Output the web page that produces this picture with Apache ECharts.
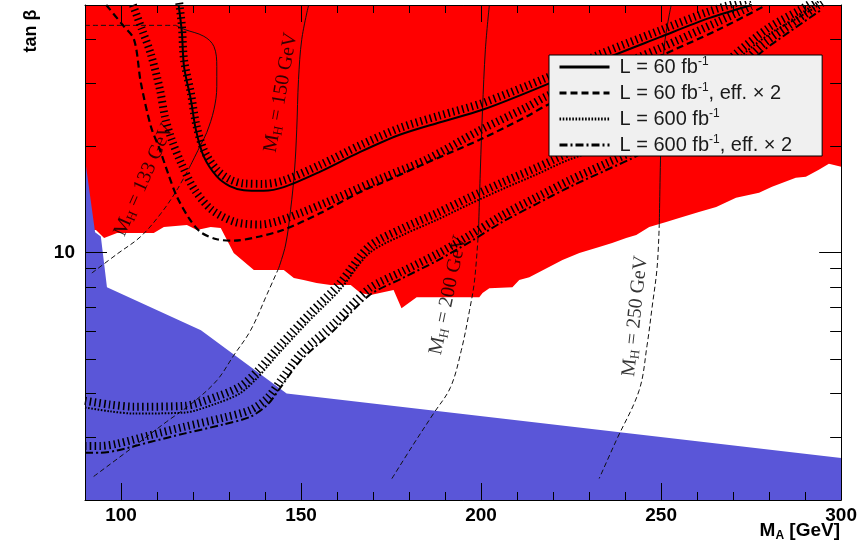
<!DOCTYPE html>
<html>
<head>
<meta charset="utf-8">
<script src="https://cdn.jsdelivr.net/npm/echarts@6/dist/echarts.min.js"></script>
<style>
  html, body { margin: 0; padding: 0; background: #fff; }
  #chart { width: 860px; height: 554px; }
</style>
</head>
<body>
<div id="chart"></div>
<script>
// ---- axes: M_A [GeV] and tan(beta) ----
const xMajorTicks = [100, 150, 200, 250, 300];
const xMinorTicks = [110, 120, 130, 140, 160, 170, 180, 190, 210, 220, 230, 240, 260, 270, 280, 290];
const yMajorTicks = [10];
const yMinorTicks = [2, 3, 4, 5, 6, 7, 8, 9, 20, 30, 40, 50];

// ---- excluded region: lower edge (filled up to tan beta = 50) ----
const exclusionEdge = [
  [90, 11.6], [93.05, 11.58], [95.3, 10.99], [98.9, 11.36], [109.1, 11.36], [111.9, 11.81],
  [118.3, 11.96], [121.1, 11.58], [124.9, 11.81], [127.7, 11.73], [131.3, 9.97], [136.9, 8.92],
  [145.2, 8.92], [148.0, 8.47], [150.7, 8.36], [154.3, 8.20], [158.2, 8.09], [163.8, 8.09],
  [166.5, 7.68], [169.3, 7.58], [175.7, 7.83], [177.9, 6.96], [182.1, 7.48], [199.5, 7.48],
  [200.4, 7.68], [202.3, 7.93], [208.7, 7.98], [210.6, 8.36], [213.4, 8.52], [216.2, 8.81],
  [222.6, 9.52], [227.3, 9.97], [232.8, 10.36], [236.4, 10.64], [240.3, 10.99], [243.1, 11.21],
  [246.7, 11.81], [251.4, 12.20], [255.0, 12.52], [260.5, 13.02], [265.3, 13.45], [270.8, 14.27],
  [277.2, 14.74], [280.8, 15.33], [287.4, 16.26], [290.2, 16.36], [293.8, 17.13], [296.6, 17.81],
  [300, 17.47]
];

// ---- theoretically inaccessible region: upper edge (filled down to tan beta = 2) ----
const inaccessibleEdge = [
  [90, 18.4], [92.8, 11.4], [94.4, 11.1], [96.1, 7.98], [122.2, 6.03], [146.0, 4.0], [300, 2.63]
];

// ---- 5 sigma discovery contours ----
const contour60 = [
  [116.0, 50], [116.9, 41.9], [117.5, 33.5], [119.4, 27.0], [120.8, 22.2], [123.0, 18.65],
  [126.6, 16.4], [130.2, 15.4], [134.1, 15.0], [139.6, 14.95], [145.2, 15.3], [155.2, 16.9],
  [166.3, 19.2], [177.4, 21.5], [188.4, 23.3], [200.4, 25.3], [218.1, 29.8], [232.8, 34.7],
  [249.5, 40.5], [263.3, 45.9], [275.2, 50]
];
const contour60eff = [
  [95.9, 50], [100.3, 44.1], [103.6, 40.0], [105.5, 30.2], [108.3, 22.7], [110.8, 19.5],
  [113.0, 16.8], [115.5, 14.4], [119.1, 12.4], [122.2, 11.4], [126.6, 10.9], [131.3, 10.8],
  [138.5, 11.1], [145.2, 11.6], [155.2, 12.9], [166.3, 14.8], [172.9, 15.8], [184.8, 17.9],
  [199.5, 20.8], [212.6, 24.2], [218.1, 26.0], [232.8, 30.2], [249.5, 35.8], [266.1, 42.7],
  [278.6, 49.6]
];
const contour60effHatch = [
  [103.3, 50], [105.8, 42.7], [108.3, 36.3], [110.8, 28.9], [112.2, 24.2], [114.1, 20.8],
  [116.9, 17.7], [120.5, 15.0], [125.2, 13.2], [131.6, 12.2], [138.5, 12.0], [149.6, 12.9],
  [172.9, 16.3], [184.8, 18.3], [199.5, 22.1], [212.6, 25.7], [218.1, 27.6], [232.8, 32.0],
  [249.5, 37.7], [266.1, 45.0], [275.0, 49.6]
];
const contour600 = [
  [90, 3.65], [96.9, 3.56], [103.6, 3.51], [117.5, 3.53], [126.6, 3.75], [133.0, 4.0],
  [137.7, 4.41], [144.1, 5.23], [152.4, 6.44], [160.7, 7.83], [169.0, 9.97], [178.2, 11.2],
  [187.6, 12.35], [196.8, 13.7], [205.9, 15.1], [215.3, 16.6], [224.5, 18.3], [240.3, 20.7],
  [249.5, 23.4], [260.5, 27.9], [270.5, 34.7], [279.9, 41.3], [288.3, 46.2], [293.3, 49.6]
];
const contour600eff = [
  [90, 2.72], [94.2, 2.72], [98.9, 2.76], [108.3, 2.92], [117.5, 3.08], [128.5, 3.27],
  [136.0, 3.44], [140.7, 3.72], [144.1, 4.13], [149.9, 4.96], [159.1, 6.03], [169.0, 7.58],
  [178.2, 8.47], [187.6, 9.46], [196.8, 10.7], [205.9, 12.2], [215.3, 13.7], [224.5, 15.3],
  [234.8, 17.1], [243.9, 18.9], [255.0, 22.5], [266.1, 27.9], [277.2, 36.3], [285.5, 41.9],
  [294.7, 48.6]
];

// ---- M_H iso-mass lines: solid part inside the excluded region, dashed below ----
const mh133Flat = [[90, 43.8], [115.2, 43.8]];
const mh133Upper = [
  [115.2, 43.8], [117.5, 42.7], [123.0, 40.8], [125.8, 38.2], [126.6, 33.5], [126.6, 29.4],
  [125.8, 25.3], [123.8, 21.8], [122.2, 20.2], [119.4, 17.7]
];
const mh133Lower = [[119.4, 17.7], [115.5, 15.0], [111.1, 12.9], [105.5, 11.1], [98.9, 9.9], [91.9, 8.75]];
const mh150Upper = [
  [152.1, 50], [150.2, 40.0], [149.3, 30.8], [148.8, 22.2], [148.2, 17.1], [147.1, 13.2],
  [145.7, 10.5], [143.8, 9.04]
];
const mh150Lower = [
  [143.8, 9.04], [140.7, 7.68], [136.0, 6.03], [131.3, 5.12], [126.6, 4.35], [119.7, 3.75],
  [112.7, 3.33], [102.5, 2.78], [91.9, 2.31]
];
const mh200Upper = [[202.3, 50], [201.2, 37.5], [200.4, 25.3], [199.8, 17.1], [199.3, 11.6]];
const mh200Lower = [
  [199.3, 11.6], [198.2, 8.36], [196.8, 6.87], [194.5, 5.29], [191.5, 4.16], [186.8, 3.51],
  [181.0, 2.85], [174.9, 2.27]
];
const mh250Upper = [[252.8, 50], [250.8, 37.5], [250.0, 21.8], [249.5, 12.12]];
const mh250Lower = [
  [249.5, 12.12], [248.9, 9.10], [247.5, 7.01], [246.1, 5.47], [243.9, 4.08], [237.5, 2.94],
  [232.8, 2.30]
];

// M_H line labels: mass, anchor (M_A, tan beta), text angle
const mhMasses = [133, 150, 200, 250];
const mhLabelAnchors = [[106.4, 16.05], [144.4, 28.3], [190.9, 7.58], [242.8, 6.61]];
const mhLabelAngles = [66, 80, 78, 84];

// legend names
const names = ['L = 60 fb-1', 'L = 60 fb-1, eff. x 2', 'L = 600 fb-1', 'L = 600 fb-1, eff. x 2'];
const legendRich = {
  'L = 60 fb-1': '{t|L = 60 fb}{s|-1}',
  'L = 60 fb-1, eff. x 2': '{t|L = 60 fb}{s|-1}{t|, eff. \u00d7 2}',
  'L = 600 fb-1': '{t|L = 600 fb}{s|-1}',
  'L = 600 fb-1, eff. x 2': '{t|L = 600 fb}{s|-1}{t|, eff. \u00d7 2}'
};

// hatching sits on the upper side of each contour: a constant factor is a
// constant vertical offset on the log axis
const hatchSide = pts => pts.map(([x, y]) => [x, y * 1.045]);

const BLACK = '#000';
const hatchStyle = { color: BLACK, width: 8, type: [1.5, 3.3], cap: 'butt' };

function contourLine(name, data, type, width) {
  return {
    name, type: 'line', data, symbol: 'none', smooth: 0.3, z: 4,
    itemStyle: { color: BLACK },
    lineStyle: { color: BLACK, width, type, cap: 'butt' }
  };
}
function hatchLine(data) {
  return { type: 'line', data, symbol: 'none', smooth: 0.3, z: 3, lineStyle: hatchStyle, silent: true };
}
function mhLine(data, dashed) {
  return {
    type: 'line', data, symbol: 'none', smooth: 0.35, z: 3, silent: true,
    lineStyle: { color: '#111', width: 1, type: dashed ? [5, 3] : 'solid' }
  };
}

const tickFont = { fontFamily: 'Liberation Sans', fontWeight: 'bold', fontSize: 19, color: BLACK };

function xAxisDef(position, values, length, labels, line) {
  return {
    type: 'value', min: 90, max: 300, position, z: 10,
    axisLine: { show: line, onZero: false, lineStyle: { color: BLACK, width: 1 } },
    axisTick: { show: true, inside: true, length, customValues: values, lineStyle: { color: BLACK, width: 1 } },
    axisLabel: Object.assign({ show: labels, customValues: values, margin: 6 }, tickFont),
    splitLine: { show: false }, minorTick: { show: false }
  };
}
function yAxisDef(position, values, length, labels, line) {
  return {
    type: 'log', logBase: 10, min: 2, max: 50, position, z: 10,
    axisLine: { show: line, onZero: false, lineStyle: { color: BLACK, width: 1 } },
    axisTick: { show: true, inside: true, length, customValues: values, lineStyle: { color: BLACK, width: 1 } },
    axisLabel: Object.assign({ show: labels, customValues: values, margin: 10 }, tickFont),
    splitLine: { show: false }, minorTick: { show: false }
  };
}

const labelSeries = {
  type: 'scatter', symbolSize: 1, z: 6, silent: true,
  itemStyle: { color: 'transparent' },
  data: mhMasses.map((m, i) => ({
    value: mhLabelAnchors[i],
    label: {
      show: true, position: 'inside', rotate: mhLabelAngles[i],
      formatter: '{m|M}{h|H}{m| = ' + m + ' GeV}',
      rich: {
        m: { fontFamily: 'Liberation Serif', fontSize: 20, color: '#000', lineHeight: 22 },
        h: { fontFamily: 'Liberation Serif', fontSize: 13, color: '#000', lineHeight: 11, verticalAlign: 'bottom' }
      }
    }
  }))
};

const option = {
  animation: false,
  backgroundColor: '#fff',
  grid: { left: 85, right: 18, top: 5, bottom: 54, show: true, backgroundColor: '#fff', borderWidth: 0 },
  xAxis: [
    xAxisDef('bottom', xMajorTicks, 17, true, true),
    xAxisDef('bottom', xMinorTicks, 8, false, false),
    xAxisDef('top', xMajorTicks, 17, false, true),
    xAxisDef('top', xMinorTicks, 8, false, false)
  ],
  yAxis: [
    yAxisDef('left', yMajorTicks, 22, true, true),
    yAxisDef('left', yMinorTicks, 11, false, false),
    yAxisDef('right', yMajorTicks, 22, false, true),
    yAxisDef('right', yMinorTicks, 11, false, false)
  ],
  legend: {
    data: names, orient: 'vertical', left: 549, top: 55,
    backgroundColor: '#f0f0f0', borderColor: BLACK, borderWidth: 1, borderRadius: 0,
    padding: [1, 30, 1, 9], itemGap: 5, itemWidth: 50, itemHeight: 14,
    itemStyle: { color: 'transparent', borderWidth: 0, opacity: 0 },
    lineStyle: { width: 3 },
    formatter: n => legendRich[n],
    textStyle: {
      padding: [0, 0, 0, 5],
      rich: {
        t: { fontFamily: 'Liberation Sans', fontSize: 20, color: '#1a1a1a', lineHeight: 22 },
        s: { fontFamily: 'Liberation Sans', fontSize: 12, color: '#1a1a1a', lineHeight: 12, verticalAlign: 'top' }
      }
    },
    selectedMode: false, z: 8
  },
  graphic: [
    {
      type: 'text', x: 31, y: 31, rotation: Math.PI / 2, z: 10,
      style: { text: 'tan \u03b2', fontFamily: 'Liberation Sans', fontWeight: 'bold', fontSize: 18, fill: BLACK,
               align: 'center', verticalAlign: 'middle' }
    },
    {
      type: 'text', x: 840, y: 531, z: 10,
      style: {
        text: '{a|M}{b|A}{a| [GeV]}', align: 'right', verticalAlign: 'middle',
        rich: {
          a: { fontFamily: 'Liberation Sans', fontWeight: 'bold', fontSize: 19, fill: BLACK, lineHeight: 22 },
          b: { fontFamily: 'Liberation Sans', fontWeight: 'bold', fontSize: 12, fill: BLACK, lineHeight: 12, verticalAlign: 'bottom' }
        }
      }
    }
  ],
  series: [
    { type: 'line', data: exclusionEdge, symbol: 'none', z: 1, silent: true,
      lineStyle: { width: 0 }, areaStyle: { color: '#ff0000', opacity: 1, origin: 'end' } },
    { type: 'line', data: inaccessibleEdge, symbol: 'none', z: 1, silent: true,
      lineStyle: { width: 0 }, areaStyle: { color: '#5a56d8', opacity: 1, origin: 'start' } },

    mhLine(mh133Flat, true), mhLine(mh133Upper, false), mhLine(mh133Lower, true),
    mhLine(mh150Upper, false), mhLine(mh150Lower, true),
    mhLine(mh200Upper, false), mhLine(mh200Lower, true),
    mhLine(mh250Upper, false), mhLine(mh250Lower, true),

    hatchLine(hatchSide(contour60)),
    hatchLine(contour60effHatch),
    hatchLine(hatchSide(contour600)),
    hatchLine(hatchSide(contour600eff)),

    contourLine(names[0], contour60, 'solid', 2),
    contourLine(names[1], contour60eff, [7, 4], 2.2),
    contourLine(names[2], contour600, [1.6, 1.6], 2),
    contourLine(names[3], contour600eff, [8, 3, 2, 3], 2),

    labelSeries
  ]
};

const chart = echarts.init(document.getElementById('chart'), null, { renderer: 'canvas' });
chart.setOption(option);
</script>
</body>
</html>
